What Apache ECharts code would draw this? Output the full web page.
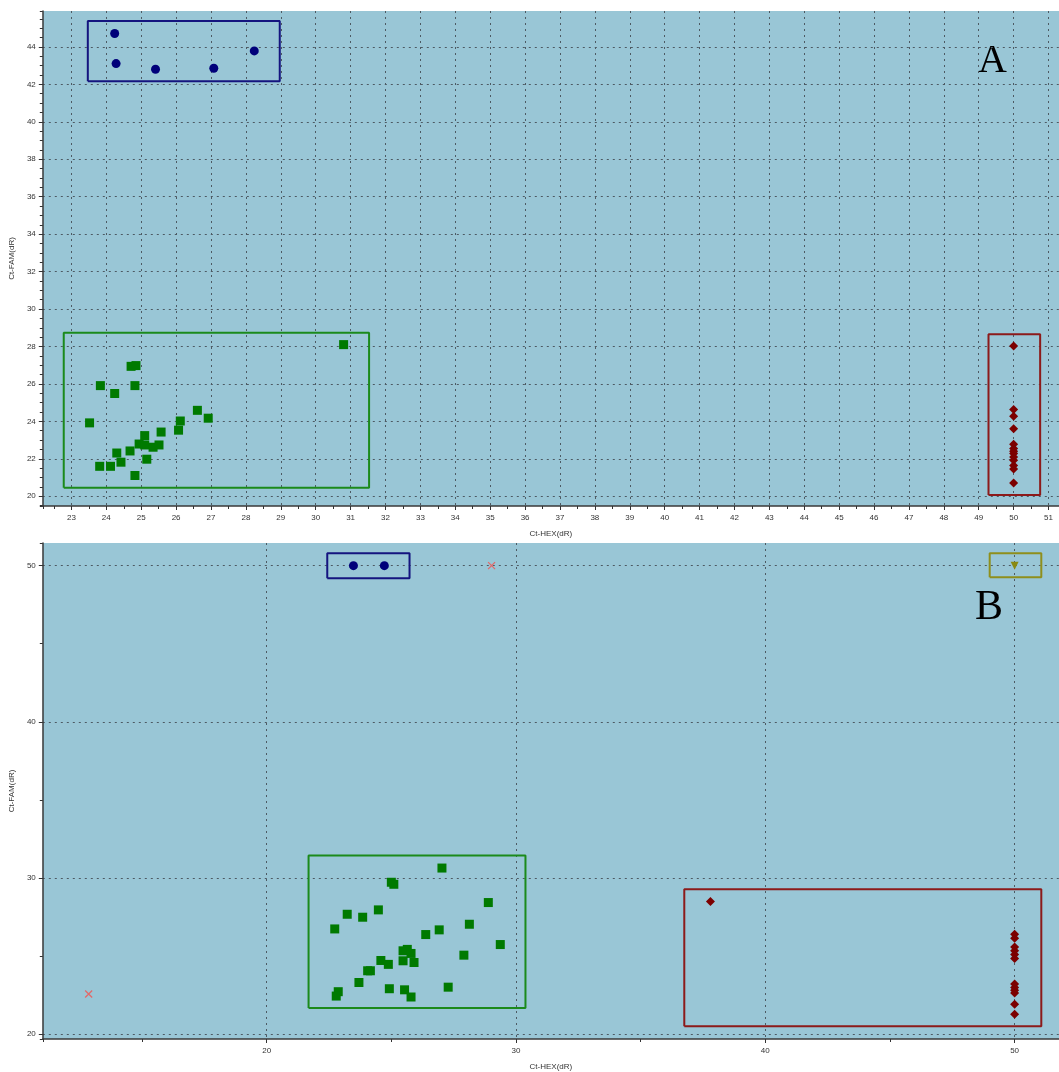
<!DOCTYPE html>
<html>
<head>
<meta charset="utf-8">
<script src="https://cdn.jsdelivr.net/npm/echarts@6/dist/echarts.min.js"></script>
<style>
html,body{margin:0;padding:0;background:#fff;}
#c{width:1059px;height:1072px;}
</style>
</head>
<body>
<div id="c"></div>
<script>
// ---------- Panel A data ----------
const topBlue = [[24.24,44.72],[24.28,43.11],[25.41,42.81],[27.08,42.86],[28.24,43.79]];
const topGreen = [[30.80,28.10],[24.71,26.94],[24.85,26.98],[23.83,25.91],[24.82,25.91],[24.24,25.49],
  [23.52,23.92],[26.61,24.59],[26.92,24.17],[26.12,24.02],[26.07,23.53],[25.57,23.43],[25.10,23.24],
  [24.94,22.79],[25.10,22.74],[25.34,22.62],[25.51,22.74],[24.30,22.31],[24.68,22.42],[24.42,21.82],
  [25.16,21.98],[23.81,21.60],[24.12,21.60],[24.82,21.11]];
const topRed = [[50,28.03],[50,24.63],[50,24.27],[50,23.60],[50,22.78],[50,22.55],[50,22.40],[50,22.28],
  [50,22.10],[50,21.92],[50,21.64],[50,21.46],[50,20.71]];
// boxes: [x0, x1, y0, y1]
const topBoxBlue = [23.47, 28.97, 42.17, 45.39];
const topBoxGreen = [22.78, 31.53, 20.46, 28.74];
const topBoxRed = [49.28, 50.76, 20.07, 28.65];

// ---------- Panel B data ----------
const botBlue = [[23.48,50],[24.72,50]];
const botCross = [[29.02,50],[12.86,22.56]];
const botOlive = [[50,50]];
const botGreen = [[27.03,30.63],[25.00,29.72],[25.10,29.59],[28.89,28.42],[23.23,27.67],[23.85,27.48],
  [24.48,27.95],[28.13,27.03],[22.73,26.73],[26.92,26.67],[26.38,26.37],[29.37,25.73],[25.47,25.33],
  [25.64,25.42],[25.79,25.16],[27.91,25.05],[24.58,24.71],[24.88,24.46],[25.47,24.69],[25.91,24.58],
  [24.05,24.05],[24.16,24.05],[23.70,23.30],[24.92,22.90],[25.53,22.83],[27.28,23.00],[22.87,22.71],
  [22.79,22.43],[25.79,22.37]];
const botRed = [[37.80,28.48],[50,26.39],[50,26.14],[50,25.58],[50,25.33],[50,25.09],[50,24.84],
  [50,23.20],[50,22.98],[50,22.81],[50,22.62],[50,21.90],[50,21.26]];
const botBoxBlue = [22.43, 25.73, 49.19, 50.79];
const botBoxGreen = [21.68, 30.38, 21.66, 31.44];
const botBoxRed = [36.75, 51.07, 20.49, 29.27];
const botBoxOlive = [49.0, 51.07, 49.25, 50.79];

// axis ranges and tick steps
const topX = {min: 22.18, max: 51.3, major: 1, minor: 0.5};
const topY = {min: 19.48, max: 45.92, major: 2, minor: 0.5};
const botX = {min: 11.02, max: 51.78, major: 10, minor: 5};
const botY = {min: 19.68, max: 51.45, major: 10, minor: 5};

const xName = 'Ct-HEX(dR)';
const yName = 'Ct-FAM(dR)';

const FONT = 'Liberation Sans';
const gridLine = {show: true, showMinLine: false, showMaxLine: false,
  lineStyle: {color: '#4d5a63', type: [2, 4], width: 1}};

function box(b) { return [[b[0],b[2]],[b[1],b[2]],[b[1],b[3]],[b[0],b[3]],[b[0],b[2]]]; }
function isMult(v, step) { return Math.abs(v/step - Math.round(v/step)) < 1e-6; }

function majorAxis(r, gridIndex, isX) {
  return {
    type: 'value', gridIndex: gridIndex, min: r.min, max: r.max,
    minInterval: r.major, maxInterval: r.major,
    position: isX ? 'bottom' : 'left',
    name: isX ? xName : yName, nameLocation: 'middle',
    nameGap: isX ? 24 : 21,
    nameTextStyle: {fontFamily: FONT, fontSize: 8, color: '#333'},
    axisLine: {show: true, onZero: false, lineStyle: {color: '#3a3a3a', width: 1.5}},
    axisTick: {show: true, length: 4, lineStyle: {color: '#333'}},
    axisLabel: {show: true, fontFamily: FONT, fontSize: 8, color: '#333', margin: isX ? 8 : 7,
      showMinLabel: false, showMaxLabel: false,
      formatter: function (v) { return isMult(v, r.major) ? String(Math.round(v)) : ''; }},
    splitLine: gridLine
  };
}
function minorAxis(r, gridIndex, isX) {
  return {
    type: 'value', gridIndex: gridIndex, min: r.min, max: r.max,
    minInterval: r.minor, maxInterval: r.minor,
    position: isX ? 'bottom' : 'left',
    axisLine: {show: false, onZero: false},
    axisTick: {show: true, length: 3, lineStyle: {color: '#333'}},
    axisLabel: {show: false}, splitLine: {show: false}, minorSplitLine: {show: false}
  };
}

const diamond = 'path://M0,-1 L1,0 L0,1 L-1,0 Z';
const cross = 'path://M0,0 L1,1 M1,0 L0,1';

function pts(data, xi, yi, symbol, size, color, extra) {
  return Object.assign({type: 'scatter', xAxisIndex: xi, yAxisIndex: yi, data: data,
    symbol: symbol, symbolSize: size, itemStyle: {color: color, opacity: 1}, z: 5, silent: true}, extra || {});
}
function rect(b, xi, yi, color) {
  return {type: 'line', xAxisIndex: xi, yAxisIndex: yi, data: box(b), symbol: 'none',
    lineStyle: {color: color, width: 2}, z: 4, silent: true};
}

const BLUE = '#00007a', GREEN = '#007a00', RED = '#7c0000', OLIVE = '#8a8a12', CROSS = '#e26a6a';
const RB = '#14147f', RG = '#1b8a1b', RR = '#8c1a1a', RO = '#8f8f1c';

const chart = echarts.init(document.getElementById('c'), null, {renderer: 'canvas'});
chart.setOption({
  animation: false,
  backgroundColor: '#ffffff',
  grid: [
    {left: 41, top: 11, width: 1018, height: 495, show: true, backgroundColor: '#99c6d6', borderWidth: 0},
    {left: 41, top: 543, width: 1018, height: 497, show: true, backgroundColor: '#99c6d6', borderWidth: 0}
  ],
  xAxis: [majorAxis(topX, 0, true), minorAxis(topX, 0, true), majorAxis(botX, 1, true), minorAxis(botX, 1, true)],
  yAxis: [majorAxis(topY, 0, false), minorAxis(topY, 0, false), majorAxis(botY, 1, false), minorAxis(botY, 1, false)],
  graphic: [
    {type: 'text', left: 978, top: 41, style: {text: 'A', font: '40px "Liberation Serif"', fill: '#000'}},
    {type: 'text', left: 975, top: 587, style: {text: 'B', font: '42px "Liberation Serif"', fill: '#000'}}
  ],
  series: [
    rect(topBoxBlue, 0, 0, RB), rect(topBoxGreen, 0, 0, RG), rect(topBoxRed, 0, 0, RR),
    pts(topBlue, 0, 0, 'circle', 9, BLUE),
    pts(topGreen, 0, 0, 'rect', 9, GREEN),
    pts(topRed, 0, 0, diamond, 9, RED),
    rect(botBoxBlue, 2, 2, RB), rect(botBoxGreen, 2, 2, RG), rect(botBoxRed, 2, 2, RR), rect(botBoxOlive, 2, 2, RO),
    pts(botBlue, 2, 2, 'circle', 9, BLUE),
    pts(botGreen, 2, 2, 'rect', 9, GREEN),
    pts(botRed, 2, 2, diamond, 9, RED),
    pts(botOlive, 2, 2, 'triangle', 8, OLIVE, {symbolRotate: 180}),
    pts(botCross, 2, 2, cross, 7, CROSS, {itemStyle: {color: 'none', borderColor: CROSS, borderWidth: 1.3, opacity: 1}})
  ]
});
</script>
</body>
</html>
